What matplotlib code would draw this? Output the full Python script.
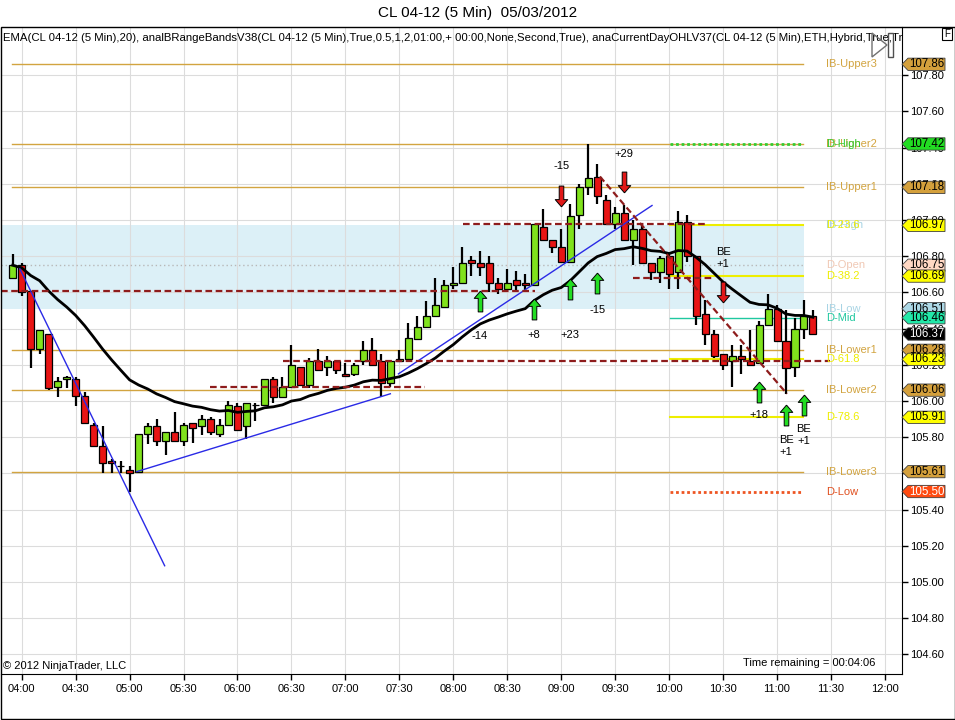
import matplotlib
matplotlib.use('Agg')
import matplotlib.pyplot as plt
from matplotlib.path import Path
from matplotlib.patches import Polygon, Rectangle
from matplotlib.transforms import blended_transform_factory
import pandas as pd

plt.rcParams['font.family'] = ['Liberation Sans', 'DejaVu Sans']

# 5 min bars, bar 0 = 03:55
opens = [106.68, 106.75, 106.61, 106.29, 106.37, 106.08, 106.12, 106.12, 106.03, 105.87,
         105.75, 105.67, 105.64, 105.62, 105.61, 105.82, 105.86, 105.78, 105.83, 105.78,
         105.88, 105.86, 105.90, 105.82, 105.87, 105.97, 105.86, 105.98, 105.98, 106.12,
         106.02, 106.08, 106.19, 106.09, 106.22, 106.19, 106.22, 106.15, 106.15, 106.22,
         106.28, 106.22, 106.10, 106.22, 106.23, 106.34, 106.41, 106.47, 106.52, 106.64,
         106.65, 106.78, 106.76, 106.76, 106.65, 106.62, 106.67, 106.65, 106.64, 106.96,
         106.89, 106.85, 106.77, 107.03, 107.18, 107.24, 107.11, 106.98, 107.04, 106.89,
         106.95, 106.76, 106.71, 106.80, 106.71, 106.99, 106.80, 106.48, 106.37, 106.26,
         106.22, 106.25, 106.22, 106.21, 106.42, 106.51, 106.33, 106.19, 106.40, 106.47]
highs = [106.81, 106.76, 106.61, 106.39, 106.37, 106.13, 106.14, 106.13, 106.05, 105.88,
         105.86, 105.68, 105.67, 105.64, 105.82, 105.88, 105.90, 105.83, 105.94, 105.88,
         105.88, 105.92, 105.91, 105.90, 106.00, 105.99, 105.99, 105.99, 106.12, 106.13,
         106.13, 106.31, 106.19, 106.24, 106.29, 106.25, 106.22, 106.21, 106.21, 106.33,
         106.35, 106.26, 106.22, 106.28, 106.43, 106.47, 106.55, 106.68, 106.67, 106.74,
         106.85, 106.80, 106.83, 106.80, 106.68, 106.73, 106.72, 106.70, 106.98, 107.06,
         106.89, 106.95, 107.09, 107.20, 107.42, 107.31, 107.14, 107.07, 107.08, 107.00,
         106.97, 106.76, 106.80, 106.82, 107.05, 107.03, 106.80, 106.56, 106.39, 106.26,
         106.31, 106.31, 106.39, 106.44, 106.59, 106.53, 106.50, 106.46, 106.56, 106.50]
lows = [106.68, 106.58, 106.18, 106.26, 106.06, 106.02, 106.07, 105.97, 105.88, 105.75,
        105.60, 105.60, 105.60, 105.50, 105.61, 105.76, 105.75, 105.70, 105.78, 105.75,
        105.77, 105.81, 105.81, 105.80, 105.87, 105.84, 105.79, 105.89, 105.98, 105.99,
        106.02, 106.08, 106.09, 106.07, 106.17, 106.14, 106.15, 106.14, 106.14, 106.20,
        106.20, 106.02, 106.08, 106.22, 106.23, 106.34, 106.41, 106.47, 106.52, 106.62,
        106.65, 106.69, 106.69, 106.60, 106.59, 106.62, 106.60, 106.60, 106.64, 106.89,
        106.82, 106.77, 106.77, 106.95, 107.14, 107.09, 106.98, 106.95, 106.89, 106.75,
        106.76, 106.67, 106.65, 106.62, 106.62, 106.77, 106.42, 106.31, 106.24, 106.17,
        106.08, 106.15, 106.20, 106.21, 106.42, 106.33, 106.04, 106.13, 106.34, 106.37]
closes = [106.75, 106.60, 106.29, 106.39, 106.07, 106.11, 106.13, 106.03, 105.88, 105.75,
          105.66, 105.66, 105.64, 105.60, 105.82, 105.86, 105.78, 105.83, 105.78, 105.87,
          105.85, 105.90, 105.83, 105.87, 105.98, 105.84, 105.99, 105.98, 106.12, 106.02,
          106.08, 106.20, 106.09, 106.22, 106.17, 106.22, 106.17, 106.14, 106.20, 106.28,
          106.20, 106.10, 106.22, 106.23, 106.35, 106.41, 106.47, 106.53, 106.64, 106.65,
          106.76, 106.76, 106.74, 106.65, 106.62, 106.65, 106.64, 106.64, 106.98, 106.89,
          106.85, 106.77, 107.02, 107.18, 107.23, 107.13, 106.98, 107.04, 106.89, 106.95,
          106.76, 106.71, 106.79, 106.70, 106.99, 106.80, 106.47, 106.37, 106.25, 106.20,
          106.25, 106.23, 106.20, 106.42, 106.51, 106.33, 106.18, 106.40, 106.47, 106.37]

time_ticks = [1, 7, 13, 19, 25, 31, 37, 43, 49, 55, 61, 67, 73, 79, 85, 91, 97]
time_labels = ['04:00', '04:30', '05:00', '05:30', '06:00', '06:30', '07:00', '07:30', '08:00',
               '08:30', '09:00', '09:30', '10:00', '10:30', '11:00', '11:30', '12:00']
price_ticks = [104.60, 104.80, 105.00, 105.20, 105.40, 105.60, 105.80, 106.00, 106.20,
               106.40, 106.60, 106.80, 107.00, 107.20, 107.40, 107.60, 107.80]

# initial balance bands (drawn across the session)
ib_high = 106.97
ib_low = 106.51
ib_prices = [107.86, 107.42, 107.18, 106.28, 106.06, 105.61]
ib_names = ['IB-Upper3', 'IB-Upper2', 'IB-Upper1', 'IB-Lower1', 'IB-Lower2', 'IB-Lower3']

# current day levels (drawn from 10:00)
fib_prices = [106.97, 106.69, 106.23, 105.91]
fib_names = ['D-23.6', 'D-38.2', 'D-61.8', 'D-78.6']
day_high = 107.42
day_low = 105.50
day_mid = 106.46
day_open = 106.75

# hand drawn lines: (bar, price) -> (bar, price)
trend_lines = [((0.8, 106.73), (16.9, 105.09)),
               ((13.8, 105.61), (42.0, 106.04)),
               ((42.9, 106.15), (71.1, 107.08))]
dashed_lines = [((-1.3, 106.61), (58.1, 106.61)),
                ((21.9, 106.08), (45.9, 106.08)),
                ((30.1, 106.22), (90.9, 106.22)),
                ((50.1, 106.98), (77.0, 106.98)),
                ((69.0, 106.68), (77.9, 106.68)),
                ((65.3, 107.24), (86.1, 106.04))]

# trade arrows (bar, centre price) and labels
long_bars = [52, 58, 62, 65, 83, 86, 88]
long_prices = [106.55, 106.51, 106.62, 106.65, 106.05, 105.92, 105.98]
short_bars = [61, 68, 79]
short_prices = [107.13, 107.21, 106.60]
note_bars = [51.9, 58, 62, 65, 61, 68, 79, 83, 86, 88]
note_prices = [106.36, 106.365, 106.365, 106.50, 107.30, 107.365, 106.79, 105.92, 105.75, 105.81]
note_texts = ['-14', '+8', '+23', '-15', '-15', '+29', 'BE\n+1', '+18', 'BE\n+1', 'BE\n+1']

# price markers on the right axis: price, fill, text colour
tag_prices = [107.86, 107.42, 107.18, 106.97, 106.75, 106.69, 106.51, 106.46, 106.37,
              106.28, 106.23, 106.06, 105.91, 105.61, 105.50]
tag_fills = ['#d4a03c', '#22dd22', '#d4a03c', '#ffff00', '#ffd8c4', '#ffff00', '#add8e6',
             '#22e8a8', '#000000', '#d4a03c', '#ffff00', '#d4a03c', '#ffff00', '#d4a03c',
             '#ff4a10']
tag_text = ['black'] * 8 + ['white'] + ['black'] * 5 + ['white']

GOLD = '#d2a440'
YELLOW = '#eeee00'
DRED = '#8e1c1c'


def fx(px):
    return px / 955.0


def fy(py):
    return 1 - py / 720.0


def main():
    fig = plt.figure(figsize=(9.55, 7.2), dpi=100)
    ax = fig.add_axes([fx(1), fy(674), fx(901), 647 / 720.0])
    ax.set_xlim(-1.3, 98.9)
    ax.set_ylim(104.492, 108.066)

    # grid, band
    ax.set_axisbelow(True)
    ax.grid(True, color='#dcdcdc', lw=0.8)
    ax.axhspan(ib_low, ib_high, xmin=0, xmax=(88.0 + 1.3) / 100.2, color='#dcf0f7', zorder=0.2, lw=0)

    # levels
    for p, name in zip(ib_prices, ib_names):
        ax.plot([-0.1, 87.9], [p, p], color=GOLD, lw=1, zorder=1)
    ax.plot([-1.3, 87.9], [day_open, day_open], color='#b8b8b8', lw=1, ls=(0, (1, 2)), zorder=1)
    for p in fib_prices:
        ax.plot([73.1, 87.9], [p, p], color=YELLOW, lw=1.5, zorder=1)
    ax.plot([73.1, 87.9], [day_mid, day_mid], color='#20c8a0', lw=1, zorder=1)
    ax.plot([73.1, 87.9], [day_high, day_high], color='#33cc33', lw=2, ls=(0, (1, 1)), zorder=1)
    ax.plot([73.1, 87.9], [day_low, day_low], color='#ee5522', lw=2, ls=(0, (1, 1)), zorder=1)

    # level names
    lx = 90.5
    for p, name in zip(ib_prices, ib_names):
        ax.text(lx, p, name, color=GOLD, fontsize=8, va='center', zorder=7)
    ax.text(lx, day_high, 'D-High', color='#33cc33', fontsize=8, va='center', zorder=7)
    ax.text(lx, ib_high, 'IB-High', color='#a8d4e4', fontsize=8, va='center', zorder=7)
    ax.text(lx, day_open, 'D-Open', color='#f0c8b4', fontsize=8, va='center', zorder=7)
    ax.text(lx, ib_low, 'IB-Low', color='#a8d4e4', fontsize=8, va='center', zorder=7)
    ax.text(lx, day_mid, 'D-Mid', color='#20c8a0', fontsize=8, va='center', zorder=7)
    for p, name in zip(fib_prices, fib_names):
        ax.text(lx, p, name, color=YELLOW, fontsize=8, va='center', zorder=7)
    ax.text(lx, day_low, 'D-Low', color='#e05020', fontsize=8, va='center', zorder=7)

    # candles
    bars = list(range(len(closes)))
    ax.vlines(bars, lows, highs, color='black', lw=1.6, zorder=4)
    colors = ['#80e21c' if c >= o else '#e81414' for o, c in zip(opens, closes)]
    heights = [c - o for o, c in zip(opens, closes)]
    ax.bar(bars, heights, bottom=opens, width=0.78, color=colors, edgecolor='black',
           lw=0.9, zorder=5)

    # EMA(20)
    ema = pd.Series(closes).ewm(span=20, adjust=False).mean()
    ax.plot(bars, ema, color='black', lw=2, zorder=6)

    for (a, b) in trend_lines:
        ax.plot([a[0], b[0]], [a[1], b[1]], color='#2a2ae6', lw=1, zorder=6)
    for (a, b) in dashed_lines:
        ax.plot([a[0], b[0]], [a[1], b[1]], color=DRED, lw=1.6, ls=(0, (3, 1.6)), zorder=6)

    up = Path([(0, 1), (0.6, 0.3), (0.22, 0.3), (0.22, -1), (-0.22, -1), (-0.22, 0.3),
               (-0.6, 0.3), (0, 1)])
    down = Path([(x, -y) for x, y in up.vertices])
    ax.plot(long_bars, long_prices, ls='none', marker=up, markersize=15,
            mfc='#22dd22', mec='black', mew=0.7, zorder=8)
    ax.plot(short_bars, short_prices, ls='none', marker=down, markersize=15,
            mfc='#e01818', mec='black', mew=0.7, zorder=8)
    for b, p, t in zip(note_bars, note_prices, note_texts):
        ax.text(b, p, t, fontsize=8, ha='center', va='center', zorder=8, linespacing=1.25)

    # axes look
    for s in ['top', 'left']:
        ax.spines[s].set_visible(False)
    ax.set_xticks(time_ticks)
    ax.set_xticklabels(time_labels)
    ax.set_yticks(price_ticks)
    ax.set_yticklabels(['%.2f' % p for p in price_ticks])
    ax.yaxis.tick_right()
    ax.tick_params(axis='both', labelsize=8, length=4, width=1, pad=1.5)
    ax.tick_params(axis='x', pad=3)

    ax.text(0.002, 0.983, 'EMA(CL 04-12 (5 Min),20), analBRangeBandsV38(CL 04-12 (5 Min),True,0.5,1,2,'
            '01:00,+ 00:00,None,Second,True), anaCurrentDayOHLV37(CL 04-12 (5 Min),ETH,Hybrid,'
            'True,True), BarTimer(CL 04-12 (5 Min))', transform=ax.transAxes, fontsize=8.2,
            va='center', clip_on=True, zorder=9)
    ax.text(0.002, 0.004, '\u00a9 2012 NinjaTrader, LLC', transform=ax.transAxes, fontsize=8,
            va='bottom', zorder=9)
    ax.text(0.971, 0.009, 'Time remaining = 00:04:06', transform=ax.transAxes, fontsize=8,
            ha='right', va='bottom', zorder=9)

    # price tags on the right axis
    tr = blended_transform_factory(fig.transFigure, ax.transData)
    h = 0.034
    for p, fc, tc in zip(tag_prices, tag_fills, tag_text):
        pts = [(fx(902), p), (fx(908), p + h), (fx(945), p + h), (fx(945), p - h), (fx(908), p - h)]
        fig.add_artist(Polygon(pts, closed=True, transform=tr, fc=fc, ec='#404040', lw=0.6))
        fig.text(fx(927), p, '%.2f' % p, transform=tr, fontsize=8.3, color=tc,
                 ha='center', va='center')

    fig.text(0.5, fy(13), 'CL 04-12 (5 Min)  05/03/2012', fontsize=11, ha='center', va='center')
    fig.add_artist(Rectangle((fx(0.5), 0.0007), fx(954), fy(27) - 0.0007,
                             transform=fig.transFigure, fill=False, ec='black', lw=1))
    fig.add_artist(Rectangle((fx(942), fy(40)), fx(10), 12 / 720.0, transform=fig.transFigure,
                             fill=False, ec='black', lw=0.8))
    fig.text(fx(947), fy(34), 'F', fontsize=7, ha='center', va='center')
    fig.add_artist(Polygon([(fx(872), fy(33)), (fx(887), fy(45)), (fx(872), fy(57))],
                           closed=True, fill=False, ec='#707070', lw=1, transform=fig.transFigure))
    fig.add_artist(Rectangle((fx(888), fy(57)), fx(5), 24 / 720.0, transform=fig.transFigure,
                             fill=False, ec='#505050', lw=1))

    fig.savefig('out.png', dpi=100)


if __name__ == "__main__":
    main()
